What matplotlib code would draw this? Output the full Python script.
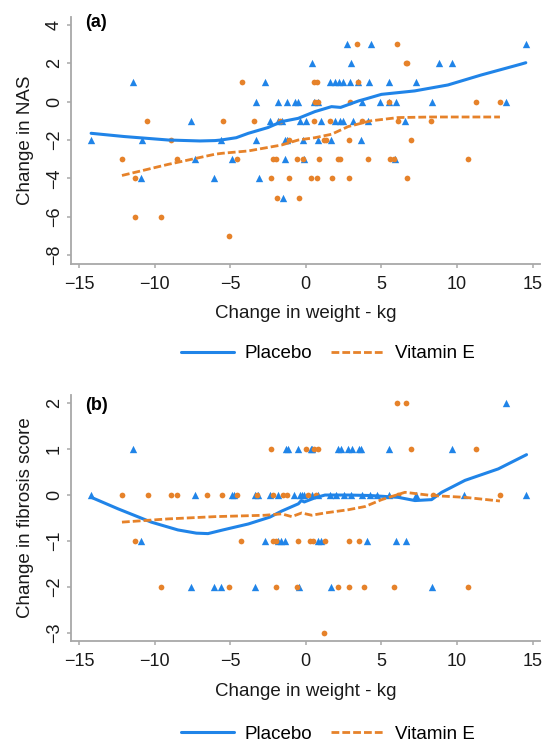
import matplotlib
matplotlib.use("Agg")
import matplotlib.pyplot as plt
import numpy as np

plt.rcParams['font.family'] = ['Liberation Sans', 'DejaVu Sans']

BLUE = '#2084e8'
ORANGE = '#e6822a'
SPINE = '#a8a8a8'

# ---------------- Panel (a): Change in NAS ----------------
nas_placebo_x = [-14.2, -11.43, -10.88, -10.85, -7.6, -7.3, -6.07, -5.6, -4.86, -3.32, -3.32, -3.1,
                 -2.7, -2.37, -1.82, -1.82, -1.6, -1.49, -1.38, -1.25, -1.38, -1.27, -0.71, -0.49,
                 -0.38, -0.16, -0.1, 0.0, 0.39, 0.56, 0.83, 0.83, 1.0, 1.67, 1.6, 1.93, 2.2, 2.48,
                 2.92, 3.47, 1.93, 2.26, 2.48, 2.7, 2.99, 3.15, 3.63, 3.7, 4.31, 4.18, 4.09, 4.91,
                 5.5, 5.5, 5.94, 5.9, 6.56, 7.27, 8.37, 8.81, 9.69, 13.22, 14.55]
nas_placebo_y = [-2, 1, -4, -2, -1, -3, -4, -2, -3, 0, -2, -4,
                 1, -1, 0, -1, -1, -5, -2, -2, -3, 0, 0, 0,
                 -1, -2, -3, -1, 2, 0, 0, -2, -1, -2, 1, 1, 1, 1,
                 1, 1, -1, -1, -1, 3, 2, -1, -2, 0, 3, 1, -1, 0,
                 1, 0, 0, -3, -1, 1, 0, 2, 2, 0, 3]

nas_vite_x = [-12.16, -11.3, -11.3, -10.48, -9.6, -8.9, -8.5, -5.5, -5.08, -4.57, -4.24, -3.4,
              -2.3, -2.19, -1.99, -1.93, -1.68, -1.1, -1.11, -0.6, -0.45, -0.16, 0.35, 0.72,
              0.52, 0.56, 0.72, 0.61, 0.79, 0.87, 1.2, 1.31, 1.6, 1.75, 2.15, 2.26, 2.86, 2.88,
              2.92, 3.36, 3.47, 3.7, 4.09, 5.5, 5.57, 5.85, 6.05, 6.08, 6.6, 6.71, 6.67, 6.94,
              8.26, 10.75, 11.26, 12.84]
nas_vite_y = [-3, -4, -6, -1, -6, -2, -3, -1, -7, -3, 1, -1,
              -4, -3, -3, -5, -1, -2, -4, -3, -5, -3, -4, -4,
              -1, 1, 1, 0, 0, -3, -2, -2, -1, -4, -3, -3, -4, -2,
              0, 3, 1, -1, -3, 0, -3, -3, 3, -1, 2, 2, -4, -2,
              -1, -3, 0, 0]

nas_placebo_fit_x = [-14.2, -12.0, -9.1, -7.0, -6.0, -5.6, -4.6, -3.8, -2.5, -1.6, -0.5, 0.6, 1.7,
                     2.3, 3.5, 4.0, 5.0, 7.2, 9.4, 11.6, 14.2, 14.55]
nas_placebo_fit_y = [-1.65, -1.82, -2.0, -2.05, -2.03, -2.0, -1.88, -1.65, -1.35, -1.04, -0.87, -0.52,
                     -0.26, -0.3, 0.04, 0.15, 0.38, 0.56, 0.87, 1.39, 1.95, 2.03]

nas_vite_fit_x = [-12.16, -9.1, -6.0, -5.5, -3.8, -1.6, -0.5, 0.6, 1.7, 2.8, 4.3, 6.1, 8.3, 10.5, 12.84]
nas_vite_fit_y = [-3.85, -3.27, -2.74, -2.69, -2.57, -2.26, -2.0, -1.88, -1.7, -1.3, -1.0, -0.83,
                  -0.8, -0.8, -0.8]

# ---------------- Panel (b): Change in fibrosis score ----------------
fib_placebo_x = [-14.23, -11.43, -10.88, -7.57, -7.35, -6.1, -5.63, -4.86, -4.73, -3.36, -3.18, -3.36,
                 -2.7, -2.37, -1.81, -1.81, -1.64, -1.38, -1.33, -1.2, -0.76, -0.49, -0.43, -0.38,
                 -0.23, -0.1, 0.35, 0.43, 0.39, 0.79, 1.0, 0.83, 1.67, 1.6, 2.15, 2.33, 2.0, 2.5,
                 2.81, 3.03, 3.0, 3.52, 3.65, 3.7, 4.03, 4.25, 4.69, 5.5, 5.5, 5.94, 6.6, 7.27,
                 8.37, 9.69, 10.46, 13.22, 14.55]
fib_placebo_y = [0, 1, -1, -2, 0, -2, -2, 0, 0, 0, 0, -2,
                 -1, 0, 0, -1, -1, -1, 1, 1, 0, 1, -2, 0,
                 0, 0, 1, 1, 0, -1, -1, 0, -2, 0, 1, 1, 0, 0,
                 1, 1, 0, 1, 1, 0, -1, 0, 0, 1, 0, -1, -1, 0,
                 -2, 1, 0, 2, 0]

fib_vite_x = [-12.16, -11.32, -10.44, -9.6, -8.94, -8.5, -6.52, -5.52, -5.08, -4.57, -4.29, -3.25,
              -2.3, -2.15, -2.15, -1.99, -1.99, -1.49, -1.26, -0.6, -0.49, -0.01, 0.17, 0.28,
              0.5, 0.56, 0.79, 0.7, 1.2, 1.3, 2.11, 2.86, 2.86, 3.52, 3.87, 5.85, 6.05, 6.63,
              6.12, 6.94, 8.4, 10.75, 11.26, 12.84]
fib_vite_y = [0, -1, 0, -2, 0, 0, 0, 0, -2, 0, -1, 0,
              1, 0, -1, -1, -2, 0, 0, -2, -1, 1, 0, -1,
              -1, 1, 1, 0, -3, -1, -2, -1, -2, -1, -2, -2, 2, 2,
              0, 1, 0, -2, 1, 0]

fib_placebo_fit_x = [-14.19, -12.42, -10.22, -8.46, -7.24, -6.47, -5.48, -3.8, -2.37, -1.6, -0.49,
                     -0.3, -0.1, 0.61, 1.27, 2.81, 4.25, 6.12, 7.22, 8.32, 8.99, 10.53, 12.73, 14.6]
fib_placebo_fit_y = [-0.05, -0.3, -0.59, -0.76, -0.83, -0.84, -0.76, -0.63, -0.48, -0.35, -0.19,
                     -0.12, -0.15, -0.06, 0.0, 0.0, -0.01, -0.05, -0.12, -0.1, 0.06, 0.32, 0.57, 0.88]

fib_vite_fit_x = [-12.16, -9.12, -6.0, -2.7, -1.6, -0.93, -0.27, 0.39, 1.27, 2.81, 3.92, 5.02,
                  6.56, 8.32, 10.53, 12.84]
fib_vite_fit_y = [-0.59, -0.52, -0.47, -0.44, -0.41, -0.47, -0.39, -0.44, -0.39, -0.32, -0.25,
                  -0.1, 0.06, -0.01, -0.05, -0.13]

x_ticks = [-15, -10, -5, 0, 5, 10, 15]
nas_ticks = [4, 2, 0, -2, -4, -6, -8]
fib_ticks = [2, 1, 0, -1, -2, -3]

W, H = 546, 745
fig = plt.figure(figsize=(W / 100, H / 100), dpi=100)


def px_axes(left, top, right, bottom):
    return fig.add_axes([left / W, 1 - bottom / H, (right - left) / W, (bottom - top) / H])


FS = 13


def style(ax, yticks, ylim, ylabel, panel, panel_y, ylab_x, xlab_y):
    ax.set_xlim(-15.55, 15.49)
    ax.set_ylim(*ylim)
    ax.set_xticks(x_ticks)
    ax.set_yticks(yticks)
    ax.set_xticklabels([f"{t:g}".replace('-', '\u2212') for t in x_ticks])
    ax.set_yticklabels([f"{t:g}".replace('-', '\u2212') for t in yticks], rotation=90, va='center')
    for s in ['top', 'right']:
        ax.spines[s].set_visible(False)
    for s in ['left', 'bottom']:
        ax.spines[s].set_color(SPINE)
        ax.spines[s].set_linewidth(1.3)
    ax.tick_params(axis='both', direction='out', length=3, width=1.1, color=SPINE,
                   labelsize=FS, labelcolor='#1a1a1a')
    ax.tick_params(axis='x', pad=6)
    ax.tick_params(axis='y', pad=2.5)
    ax.set_xlabel('Change in weight - kg', fontsize=FS + 0.5, color='#1a1a1a')
    ax.xaxis.set_label_coords(0.5, xlab_y)
    ax.set_ylabel(ylabel, fontsize=FS + 0.5, color='#1a1a1a')
    ax.yaxis.set_label_coords(ylab_x, 0.5)
    ax.text(0.03, panel_y, panel, transform=ax.transAxes, fontsize=13, fontweight='bold',
            va='top', ha='left')


def draw(ax, px, py, vx, vy, pfx, pfy, vfx, vfy):
    ax.scatter(px, py, marker='^', s=28, color=BLUE, linewidths=0, zorder=3)
    ax.scatter(vx, vy, marker='o', s=17, color=ORANGE, linewidths=0, zorder=3)
    ax.plot(pfx, pfy, color=BLUE, lw=2.2, solid_capstyle='round', label='Placebo', zorder=4)
    ax.plot(vfx, vfy, color=ORANGE, lw=2.0, dashes=(2.8, 1.1), label='Vitamin E', zorder=4)


def legend(ax, y):
    ax.legend(loc='center', bbox_to_anchor=(0.548, y), ncol=2, frameon=False, fontsize=FS + 0.5,
              handlelength=2.8, handletextpad=0.6, columnspacing=1.0, borderaxespad=0)


ax1 = px_axes(70.7, 16.7, 540, 263.5)
draw(ax1, nas_placebo_x, nas_placebo_y, nas_vite_x, nas_vite_y,
     nas_placebo_fit_x, nas_placebo_fit_y, nas_vite_fit_x, nas_vite_fit_y)
style(ax1, nas_ticks, (-8.44, 4.43), 'Change in NAS', '(a)', 1.012, -0.078, -0.168)
legend(ax1, -0.366)

ax2 = px_axes(70.7, 395, 540, 641)
draw(ax2, fib_placebo_x, fib_placebo_y, fib_vite_x, fib_vite_y,
     fib_placebo_fit_x, fib_placebo_fit_y, fib_vite_fit_x, fib_vite_fit_y)
style(ax2, fib_ticks, (-3.18, 2.18), 'Change in fibrosis score', '(b)', 0.992, -0.078, -0.170)
legend(ax2, -0.378)

fig.savefig('out.png', dpi=100)
